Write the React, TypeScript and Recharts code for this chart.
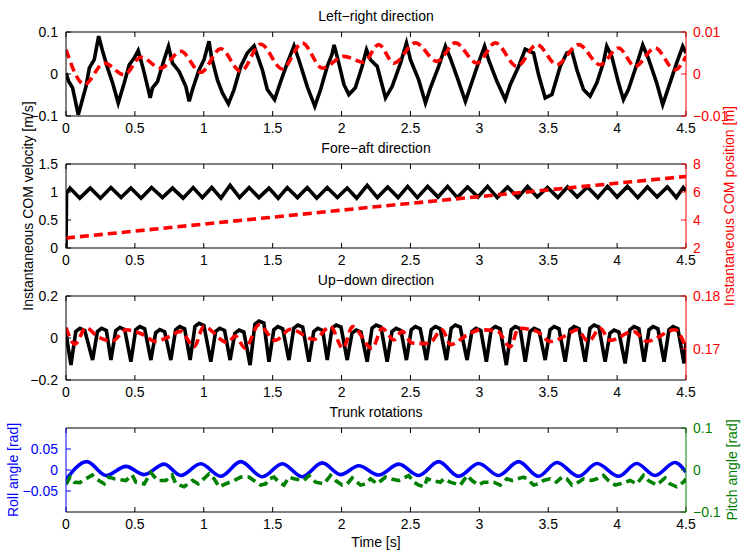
import { LineChart, Line, XAxis, YAxis } from 'recharts';

type Pt = [number, number];

// time axis [s]
const timeTicks = [0, 0.5, 1, 1.5, 2, 2.5, 3, 3.5, 4, 4.5];

// Left-right direction
const lrVelocity: Pt[] = [
  [0, 0.002], [0.02, -0.018], [0.048, -0.033], [0.089, -0.097], [0.145, -0.03], [0.169, 0.014], [0.205, 0.034],
  [0.237, 0.09], [0.266, 0.054], [0.302, 0.014], [0.338, -0.021], [0.379, -0.069], [0.423, -0.021], [0.459, 0.022],
  [0.495, 0.038], [0.524, 0.056], [0.556, 0.018], [0.592, -0.03], [0.611, -0.057], [0.628, -0.033], [0.664, -0.018],
  [0.712, 0.034], [0.744, 0.066], [0.773, 0.026], [0.821, 0.006], [0.87, -0.03], [0.894, -0.065], [0.918, -0.037],
  [0.966, 0.01], [1.002, 0.034], [1.038, 0.078], [1.055, 0.042], [1.099, -0.014], [1.135, -0.045], [1.179, -0.071],
  [1.22, -0.037], [1.268, 0.018], [1.316, 0.05], [1.365, 0.067], [1.425, 0.01], [1.461, -0.037], [1.514, -0.061],
  [1.558, -0.018], [1.606, 0.026], [1.655, 0.067], [1.69, 0.034], [1.751, -0.03], [1.806, -0.077], [1.848, -0.037],
  [1.896, 0.018], [1.93, 0.046], [1.946, 0.069], [1.98, 0.026], [2.017, -0.025], [2.053, -0.049], [2.1, -0.033],
  [2.149, 0.018], [2.181, 0.058], [2.21, 0.034], [2.259, 0.018], [2.319, -0.057], [2.367, -0.03], [2.428, 0.026],
  [2.471, 0.074], [2.5, 0.034], [2.56, -0.014], [2.609, -0.069], [2.645, -0.033], [2.705, 0.018], [2.754, 0.066],
  [2.79, 0.037], [2.85, -0.018], [2.899, -0.065], [2.935, -0.03], [2.995, 0.028], [3.038, 0.066], [3.067, 0.034],
  [3.128, -0.018], [3.188, -0.061], [3.225, -0.025], [3.285, 0.018], [3.333, 0.059], [3.394, 0.05], [3.43, -0.002],
  [3.478, -0.057], [3.527, -0.049], [3.587, 0.018], [3.635, 0.05], [3.672, 0.054], [3.708, 0.01], [3.756, -0.037],
  [3.804, -0.053], [3.853, -0.021], [3.901, 0.028], [3.925, 0.066], [3.961, 0.042], [4.01, -0.021], [4.046, -0.061],
  [4.082, -0.037], [4.142, 0.022], [4.186, 0.069], [4.227, 0.037], [4.287, -0.021], [4.331, -0.073], [4.372, -0.033],
  [4.432, 0.026], [4.476, 0.066], [4.5, 0.05],
];
const lrPosition: Pt[] = [
  [0, 0.0058], [0.133, -0.0025], [0.278, 0.0026], [0.423, -0.0002], [0.543, 0.004], [0.688, 0.0014], [0.833, 0.0054],
  [0.978, 0.0004], [1.123, 0.006], [1.268, 0.0006], [1.413, 0.0071], [1.57, 0.0012], [1.715, 0.0074], [1.86, 0.0014],
  [2.017, 0.0042], [2.16, 0.0028], [2.27, 0.007], [2.38, 0.0026], [2.536, 0.0074], [2.693, 0.003], [2.826, 0.0074],
  [2.983, 0.0026], [3.116, 0.0074], [3.273, 0.0018], [3.418, 0.007], [3.563, 0.0022], [3.72, 0.007], [3.877, 0.0022],
  [4.01, 0.0062], [4.13, 0.0018], [4.275, 0.0062], [4.42, 0.001], [4.5, 0.0042],
];

// Fore-aft direction
const faVelocity: Pt[] = [
  [0, 0], [0.004, 0.98], [0.029, 1.07], [0.1, 0.89], [0.176, 1.07], [0.25, 0.89], [0.326, 1.08], [0.4, 0.9],
  [0.471, 1.07], [0.545, 0.89], [0.621, 1.08], [0.7, 0.9], [0.773, 1.07], [0.85, 0.89], [0.923, 1.08], [0.99, 0.9],
  [1.058, 1.08], [1.125, 0.89], [1.191, 1.12], [1.26, 0.9], [1.329, 1.08], [1.4, 0.9], [1.473, 1.07], [1.54, 0.89],
  [1.606, 1.08], [1.68, 0.9], [1.751, 1.08], [1.82, 0.89], [1.896, 1.08], [1.97, 0.9], [2.041, 1.07], [2.11, 0.89],
  [2.186, 1.12], [2.26, 0.9], [2.335, 1.09], [2.41, 0.9], [2.48, 1.1], [2.55, 0.9], [2.625, 1.1], [2.7, 0.91],
  [2.77, 1.1], [2.84, 0.9], [2.915, 1.09], [2.99, 0.91], [3.06, 1.1], [3.13, 0.9], [3.205, 1.09], [3.28, 0.9],
  [3.35, 1.1], [3.42, 0.91], [3.495, 1.08], [3.57, 0.9], [3.64, 1.09], [3.71, 0.91], [3.785, 1.09], [3.86, 0.9],
  [3.93, 1.1], [4.0, 0.91], [4.075, 1.1], [4.15, 0.9], [4.22, 1.09], [4.29, 0.91], [4.365, 1.09], [4.43, 0.9],
  [4.48, 1.08], [4.5, 1.02],
];
const faPosition: Pt[] = [[0, 2.71], [2.27, 4.97], [4.5, 7.11]];

// Up-down direction
const udVelocity: Pt[] = [
  [0, 0.022],
  [0.036, -0.129], [0.071, 0.031], [0.101, 0.046], [0.136, 0.036],
  [0.193, -0.105], [0.228, 0.031], [0.258, 0.046], [0.293, 0.036],
  [0.326, -0.105], [0.361, 0.035], [0.391, 0.05], [0.426, 0.04],
  [0.471, -0.113], [0.506, 0.039], [0.536, 0.054], [0.571, 0.044],
  [0.616, -0.105], [0.651, 0.025], [0.681, 0.04], [0.716, 0.03],
  [0.761, -0.105], [0.796, 0.039], [0.826, 0.054], [0.861, 0.044],
  [0.901, -0.105], [0.936, 0.055], [0.966, 0.07], [1.001, 0.06],
  [1.051, -0.113], [1.086, 0.031], [1.116, 0.046], [1.151, 0.036],
  [1.191, -0.105], [1.226, 0.023], [1.256, 0.038], [1.291, 0.028],
  [1.336, -0.129], [1.371, 0.066], [1.401, 0.081], [1.436, 0.071],
  [1.473, -0.113], [1.508, 0.039], [1.538, 0.054], [1.573, 0.044],
  [1.618, -0.105], [1.653, 0.047], [1.683, 0.062], [1.718, 0.052],
  [1.763, -0.113], [1.798, 0.031], [1.828, 0.046], [1.863, 0.036],
  [1.896, -0.105], [1.931, 0.047], [1.961, 0.062], [1.996, 0.052],
  [2.041, -0.105], [2.076, 0.023], [2.106, 0.038], [2.141, 0.028],
  [2.186, -0.113], [2.221, 0.047], [2.251, 0.062], [2.286, 0.052],
  [2.331, -0.113], [2.366, 0.031], [2.396, 0.046], [2.431, 0.036],
  [2.471, -0.105], [2.506, 0.039], [2.536, 0.054], [2.571, 0.044],
  [2.616, -0.105], [2.651, 0.039], [2.681, 0.054], [2.716, 0.044],
  [2.761, -0.105], [2.796, 0.047], [2.826, 0.062], [2.861, 0.052],
  [2.911, -0.105], [2.946, 0.031], [2.976, 0.046], [3.011, 0.036],
  [3.051, -0.113], [3.086, 0.039], [3.116, 0.054], [3.151, 0.044],
  [3.196, -0.129], [3.231, 0.039], [3.261, 0.054], [3.296, 0.044],
  [3.333, -0.113], [3.368, 0.031], [3.398, 0.046], [3.433, 0.036],
  [3.478, -0.105], [3.513, 0.039], [3.543, 0.054], [3.578, 0.044],
  [3.623, -0.113], [3.658, 0.039], [3.688, 0.054], [3.723, 0.044],
  [3.768, -0.113], [3.803, 0.047], [3.833, 0.062], [3.868, 0.052],
  [3.913, -0.113], [3.948, 0.023], [3.978, 0.038], [4.013, 0.028],
  [4.058, -0.121], [4.093, 0.039], [4.123, 0.054], [4.158, 0.044],
  [4.196, -0.113], [4.231, 0.039], [4.261, 0.054], [4.296, 0.044],
  [4.341, -0.113], [4.376, 0.039], [4.406, 0.054], [4.441, 0.044],
  [4.486, -0.121], [4.5, -0.02],
];
const udPosition: Pt[] = [
  [0, 0.174], [0.065, 0.1709], [0.145, 0.174], [0.23, 0.1723], [0.338, 0.1715], [0.435, 0.1736], [0.55, 0.1728],
  [0.652, 0.1714], [0.74, 0.1722], [0.833, 0.1733], [0.93, 0.1704], [1.0, 0.1742], [1.17, 0.1712], [1.23, 0.1724],
  [1.3, 0.1701], [1.4, 0.1745], [1.52, 0.1716], [1.63, 0.1737], [1.8, 0.1718], [1.92, 0.1742], [2.01, 0.1701],
  [2.08, 0.1742], [2.222, 0.1701], [2.295, 0.1739], [2.38, 0.1717], [2.44, 0.1733], [2.512, 0.1711], [2.633, 0.171],
  [2.73, 0.1736], [2.79, 0.1708], [2.91, 0.1726], [3.007, 0.1736], [3.128, 0.1734], [3.225, 0.1704], [3.285, 0.1739],
  [3.418, 0.1733], [3.514, 0.1714], [3.635, 0.1726], [3.708, 0.1736], [3.792, 0.1714], [3.877, 0.1739],
  [3.949, 0.1716], [4.118, 0.1733], [4.215, 0.1714], [4.42, 0.1736], [4.5, 0.1701],
];

// Trunk rotations
const rollAngle: Pt[] = [
  [0, -0.023], [0.152, 0.02], [0.29, -0.013], [0.435, 0.0086], [0.567, -0.011], [0.712, 0.014], [0.833, -0.013],
  [0.978, 0.015], [1.123, -0.015], [1.268, 0.02], [1.425, -0.016], [1.57, 0.015], [1.715, -0.016], [1.86, 0.017],
  [1.993, -0.011], [2.125, 0.01], [2.27, -0.012], [2.415, 0.014], [2.56, -0.013], [2.705, 0.02], [2.85, -0.015],
  [2.995, 0.0155], [3.14, -0.013], [3.285, 0.02], [3.43, -0.015], [3.563, 0.018], [3.72, -0.015], [3.853, 0.0155],
  [4.01, -0.015], [4.142, 0.0155], [4.275, -0.013], [4.42, 0.018], [4.5, -0.005],
];
const pitchAngle: Pt[] = [
  [0, -0.034], [0.03, -0.017], [0.06, -0.029], [0.1, -0.03], [0.145, -0.021], [0.19, -0.012], [0.217, -0.021],
  [0.278, -0.033], [0.31, -0.017], [0.35, -0.021], [0.435, -0.025], [0.48, -0.012], [0.507, -0.029], [0.568, -0.033],
  [0.616, -0.006], [0.664, -0.025], [0.725, -0.025], [0.77, -0.012], [0.797, -0.033], [0.857, -0.04], [0.918, -0.025],
  [0.96, -0.033], [1.039, -0.009], [1.075, -0.021], [1.111, -0.04], [1.159, -0.033], [1.22, -0.025], [1.268, -0.017],
  [1.328, -0.017], [1.364, -0.025], [1.413, -0.036], [1.449, -0.033], [1.473, -0.021], [1.51, -0.017], [1.546, -0.029],
  [1.582, -0.036], [1.618, -0.017], [1.655, -0.021], [1.727, -0.025], [1.763, -0.013], [1.812, -0.029], [1.872, -0.033],
  [1.92, -0.013], [1.957, -0.025], [2.005, -0.036], [2.041, -0.033], [2.077, -0.019], [2.138, -0.036], [2.174, -0.033],
  [2.21, -0.021], [2.258, -0.033], [2.319, -0.017], [2.355, -0.021], [2.415, -0.025], [2.488, -0.013], [2.524, -0.029],
  [2.56, -0.036], [2.6, -0.04], [2.621, -0.021], [2.657, -0.025], [2.717, -0.029], [2.741, -0.021], [2.789, -0.029],
  [2.862, -0.036], [2.911, -0.013], [2.947, -0.025], [2.995, -0.036], [3.031, -0.029], [3.104, -0.029], [3.152, -0.036],
  [3.2, -0.021], [3.237, -0.025], [3.321, -0.017], [3.345, -0.021], [3.394, -0.036], [3.43, -0.033], [3.466, -0.025],
  [3.514, -0.021], [3.56, -0.029], [3.599, -0.017], [3.635, -0.021], [3.672, -0.036], [3.72, -0.029], [3.756, -0.021],
  [3.816, -0.025], [3.853, -0.021], [3.901, -0.013], [3.937, -0.025], [3.986, -0.036], [4.022, -0.033], [4.06, -0.029],
  [4.094, -0.025], [4.143, -0.033], [4.191, -0.013], [4.227, -0.025], [4.287, -0.036], [4.312, -0.029], [4.348, -0.019],
  [4.384, -0.033], [4.432, -0.04], [4.481, -0.029], [4.5, -0.021],
];

const FONT = '"Liberation Sans", Arial, Helvetica, sans-serif';
const FS = 14;
const RED = '#ff0000';
const BLUE = '#0000ff';
const GREEN = '#008000';

const rows = (a: Pt[]) => a.map(([t, v]) => ({ t, v }));
const fmt = (v: number) => (v < 0 ? '\u2212' + String(-v) : String(v));
const blank = () => '';

type Series = { data: Pt[]; axis: 'l' | 'r'; color: string; dashed?: boolean; curve?: 'linear' | 'monotone' };

type PanelProps = {
  top: number;
  title: string;
  leftDomain: [number, number];
  leftTicks: number[];
  leftColor: string;
  rightDomain: [number, number];
  rightTicks: number[];
  rightColor: string;
  series: Series[];
};

function Panel(p: PanelProps) {
  const tickStyle = (fill: string) => ({ fill, fontSize: FS, fontFamily: FONT });
  return (
    <>
      <div
        style={{
          position: 'absolute', left: 66, width: 620, top: p.top - 24, lineHeight: '16px',
          textAlign: 'center', fontFamily: FONT, fontSize: FS, color: '#000',
        }}
      >
        {p.title}
      </div>
      <div style={{ position: 'absolute', left: 0, top: p.top - 8 }}>
        <LineChart width={747} height={122} margin={{ top: 7, right: 0, bottom: 0, left: 0 }}>
          <XAxis
            xAxisId="x" type="number" dataKey="t" domain={[0, 4.5]} ticks={timeTicks} interval={0}
            allowDataOverflow height={30} tickSize={-5} tickMargin={12} stroke="#000"
            tick={tickStyle('#000')} tickFormatter={fmt}
          />
          <XAxis
            xAxisId="top" orientation="top" type="number" dataKey="t" domain={[0, 4.5]} ticks={timeTicks}
            interval={0} allowDataOverflow height={1} tickSize={-5} stroke="#000" tickFormatter={blank}
          />
          <YAxis
            yAxisId="l" type="number" domain={p.leftDomain} ticks={p.leftTicks} interval={0} allowDataOverflow
            width={66} tickSize={-5} tickMargin={13} stroke={p.leftColor} tick={tickStyle(p.leftColor)}
            tickFormatter={fmt}
          />
          <YAxis
            yAxisId="lm" orientation="right" type="number" domain={p.leftDomain} ticks={p.leftTicks}
            interval={0} allowDataOverflow width={0} tickSize={-5} axisLine={false}
            tickLine={{ stroke: p.leftColor }} tickFormatter={blank}
          />
          <YAxis
            yAxisId="r" orientation="right" type="number" domain={p.rightDomain} ticks={p.rightTicks}
            interval={0} allowDataOverflow width={61} tickSize={-5} tickMargin={12} stroke={p.rightColor}
            tick={tickStyle(p.rightColor)} tickFormatter={fmt}
          />
          {p.series.map((s, i) => (
            <Line
              key={i}
              data={rows(s.data)}
              dataKey="v"
              xAxisId="x"
              yAxisId={s.axis}
              type={s.curve ?? 'linear'}
              stroke={s.color}
              strokeWidth={3.6}
              strokeDasharray={s.dashed ? '9 5' : undefined}
              dot={false}
              activeDot={false}
              isAnimationActive={false}
            />
          ))}
        </LineChart>
      </div>
    </>
  );
}

const vLabel = (text: string, x: number, y: number, color: string) => (
  <div
    style={{
      position: 'absolute', left: x, top: y, transform: 'translate(-50%, -50%) rotate(-90deg)',
      whiteSpace: 'nowrap', fontFamily: FONT, fontSize: FS, color,
    }}
  >
    {text}
  </div>
);

export default function App() {
  return (
    <div style={{ position: 'absolute', left: 0, top: 0, width: 747, height: 554, background: '#fff', overflow: 'hidden' }}>
      <Panel
        top={32} title={'Left\u2212right direction'}
        leftDomain={[-0.1, 0.1]} leftTicks={[-0.1, 0, 0.1]} leftColor="#000"
        rightDomain={[-0.01, 0.01]} rightTicks={[-0.01, 0, 0.01]} rightColor={RED}
        series={[
          { data: lrVelocity, axis: 'l', color: '#000' },
          { data: lrPosition, axis: 'r', color: RED, dashed: true, curve: 'monotone' },
        ]}
      />
      <Panel
        top={164} title={'Fore\u2212aft direction'}
        leftDomain={[0, 1.5]} leftTicks={[0, 0.5, 1, 1.5]} leftColor="#000"
        rightDomain={[2, 8]} rightTicks={[2, 4, 6, 8]} rightColor={RED}
        series={[
          { data: faVelocity, axis: 'l', color: '#000' },
          { data: faPosition, axis: 'r', color: RED, dashed: true },
        ]}
      />
      <Panel
        top={296} title={'Up\u2212down direction'}
        leftDomain={[-0.2, 0.2]} leftTicks={[-0.2, 0, 0.2]} leftColor="#000"
        rightDomain={[0.1641, 0.18]} rightTicks={[0.17, 0.18]} rightColor={RED}
        series={[
          { data: udVelocity, axis: 'l', color: '#000' },
          { data: udPosition, axis: 'r', color: RED, dashed: true, curve: 'monotone' },
        ]}
      />
      <Panel
        top={428} title="Trunk rotations"
        leftDomain={[-0.1, 0.1]} leftTicks={[-0.05, 0, 0.05]} leftColor={BLUE}
        rightDomain={[-0.1, 0.1]} rightTicks={[-0.1, 0, 0.1]} rightColor={GREEN}
        series={[
          { data: rollAngle, axis: 'l', color: BLUE, curve: 'monotone' },
          { data: pitchAngle, axis: 'r', color: GREEN, dashed: true },
        ]}
      />
      {vLabel('Instantaneous COM velocity [m/s]', 28, 206, '#000')}
      {vLabel('Instantaneous COM position [m]', 729, 206, RED)}
      {vLabel('Roll angle [rad]', 13, 470, BLUE)}
      {vLabel('Pitch angle [rad]', 732, 470, GREEN)}
      <div
        style={{
          position: 'absolute', left: 66, width: 620, top: 534, lineHeight: '16px', textAlign: 'center',
          fontFamily: FONT, fontSize: FS, color: '#000',
        }}
      >
        Time [s]
      </div>
    </div>
  );
}
